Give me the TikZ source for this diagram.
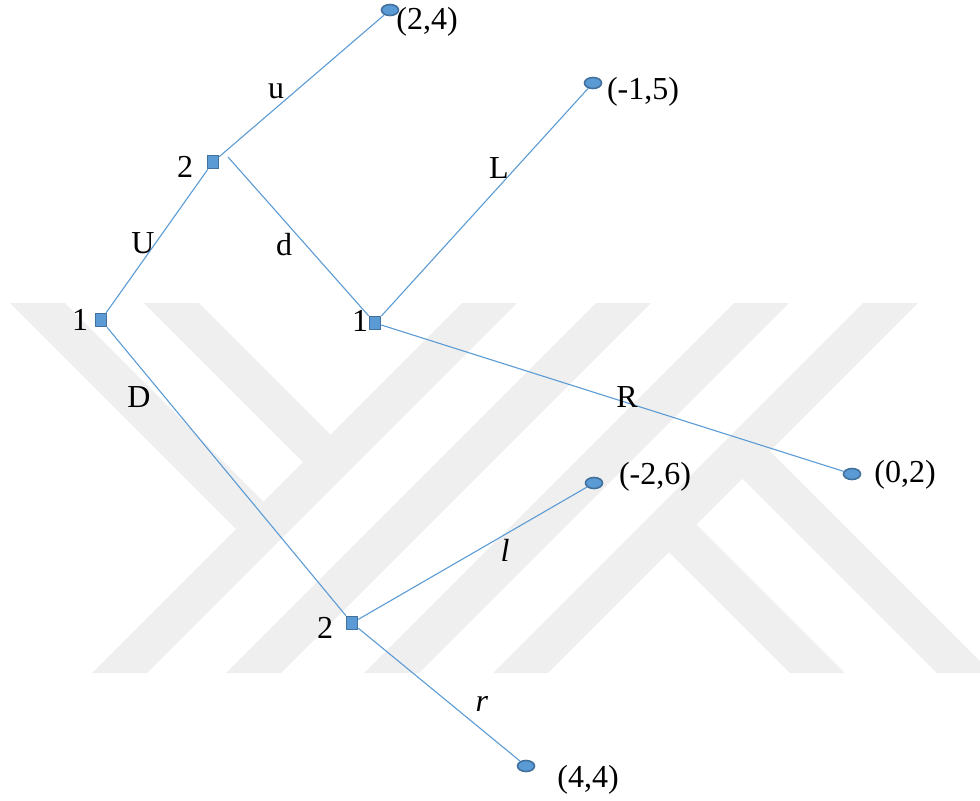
\documentclass[tikz,border=0pt]{standalone}
\usepackage{fontspec}
\setmainfont{Liberation Serif}
\usetikzlibrary{shapes.geometric}
\definecolor{treeblue}{RGB}{91,155,213}
\definecolor{treeedge}{RGB}{65,113,156}
\definecolor{wmgray}{RGB}{239,239,239}
\begin{document}
\begin{tikzpicture}[x=0.5pt, y=-0.5pt, font=\fontsize{16}{19}\selectfont, line join=round,
		dec/.style={draw=treeedge, fill=treeblue, line width=0.8pt, minimum width=5.5pt, minimum height=6.5pt, inner sep=0pt},
		term/.style={ellipse, draw=treeedge, fill=treeblue, line width=0.8pt, minimum width=8.5pt, minimum height=5.5pt, inner sep=0pt},
		branch/.style={treeblue, line width=0.55pt},
		wm/.style={fill=wmgray}]
		\useasboundingbox (0,0) rectangle (980,800);
		% watermark stripes
		\fill[wm] (462,303) -- (517,303) -- (147,673) -- (92,673) -- cycle;
		\fill[wm] (596,303) -- (651,303) -- (281,673) -- (226,673) -- cycle;
		\fill[wm] (734,303) -- (789,303) -- (419,673) -- (364,673) -- cycle;
		\fill[wm] (863,303) -- (918,303) -- (548,673) -- (493,673) -- cycle;
		\fill[wm] (10,303) -- (65,303) -- (263.5,501.5) -- (236,529) -- cycle;
		\fill[wm] (144,303) -- (199,303) -- (330.5,434.5) -- (303,462) -- cycle;
		\fill[wm] (669,552) -- (696.5,524.5) -- (845,673) -- (790,673) -- cycle;
		\fill[wm] (742.5,478.5) -- (770,451) -- (980,661) -- (980,673) -- (937,673) -- cycle;
		% decision nodes
		\node[dec] (a1) at (101,320) {};
		\node[dec] (b2) at (213,162) {};
		\node[dec] (c1) at (375,323) {};
		\node[dec] (e2) at (352,623) {};
		\node (a1l) at (80,320) {1};
		\node (b2l) at (185,167) {2};
		\node (c1l) at (360,321) {1};
		\node (e2l) at (325,628) {2};
		% payoffs
		\node[term] (t24) at (390,10) {};
		\node[term] (t15) at (593,83) {};
		\node[term] (t02) at (852,474) {};
		\node[term] (t26) at (594,483) {};
		\node[term] (t44) at (526,766) {};
		\node (p24) at (427,22) {(2,4)};
		\node (p15) at (643,92) {(-1,5)};
		\node (p02) at (905,475) {(0,2)};
		\node (p26) at (655,477) {(-2,6)};
		\node (p44) at (588,780) {(4,4)};
		% branches
		\coordinate (d0) at (228,157);
		\draw[branch] (a1) -- (b2);
		\draw[branch] (b2) -- (t24);
		\draw[branch] (d0) -- (c1);
		\draw[branch] (c1) -- (t15);
		\draw[branch] (c1) -- (t02);
		\draw[branch] (a1) -- (e2);
		\draw[branch] (e2) -- (t26);
		\draw[branch] (e2) -- (t44);
		% actions
		\node (uu) at (276,91) {u};
		\node (UU) at (143,243) {U};
		\node (dd) at (284,245) {d};
		\node (LL) at (499,168) {L};
		\node (DD) at (139,397) {D};
		\node (RR) at (627,397) {R};
		\node (ll) at (505,550) {\textit{l}};
		\node (rr) at (482,704) {\textit{r}};
	\end{tikzpicture}
\end{document}
